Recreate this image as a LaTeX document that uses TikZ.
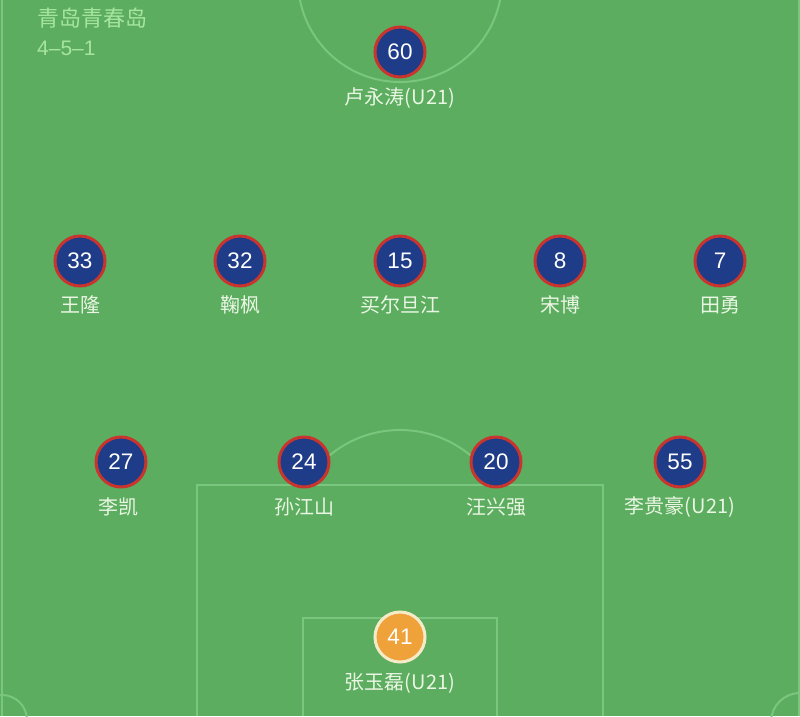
\documentclass[tikz,border=0pt]{standalone}
\usepackage{fontspec}
\setmainfont{Noto Sans CJK SC}
\newfontfamily\numfont{Liberation Sans}
\begin{document}
\begin{tikzpicture}[x=1pt,y=-1pt,
  pitchline/.style={draw=lineg,line width=2pt},
  player/.style={circle,fill=navy,draw=redb,line width=3pt,minimum size=50pt,inner sep=0pt,text=white,font=\numfont\fontsize{22.5}{23}\selectfont},
  keeper/.style={player,fill=orangek,draw=creamk},
  pname/.style={text=namec,font=\fontsize{20}{20}\selectfont,inner sep=0pt},
  title/.style={text=titlec,font=\fontsize{22}{22}\selectfont,inner sep=0pt,anchor=west}]
\definecolor{grass}{HTML}{5CAD5F}
\definecolor{lineg}{HTML}{7BC67E}
\definecolor{navy}{HTML}{1F3C88}
\definecolor{redb}{HTML}{C9352E}
\definecolor{orangek}{HTML}{EFA13A}
\definecolor{creamk}{HTML}{F6EBC8}
\definecolor{namec}{HTML}{EAF6E4}
\definecolor{titlec}{HTML}{A6E5A0}
\useasboundingbox (0,0) rectangle (800,716);
\fill[grass] (0,0) rectangle (800,716);
% pitch lines
\draw[pitchline] (1.5,0) -- (1.5,716);
\draw[pitchline] (798.5,0) -- (798.5,716);
\begin{scope}
\clip (0,0) rectangle (800,716);
\draw[pitchline] (400,-20) circle[radius=102];
\draw[pitchline] (2,720) circle[radius=25];
\draw[pitchline] (800,722) circle[radius=29];
\end{scope}
\draw[pitchline] (197,716) -- (197,485) -- (603,485) -- (603,716);
\draw[pitchline] (303,716) -- (303,618) -- (497,618) -- (497,716);
\begin{scope}
\clip (0,0) rectangle (800,485);
\draw[pitchline] (400,540.5) circle[radius=110.5];
\end{scope}
% title
\node[title] (team) at (37,18) {青岛青春岛};
\node[title,font=\numfont\fontsize{21}{22}\selectfont] (form) at (37,48) {4–5–1};
% players
\node[player] (p60) at (400,52) {60};
\node[pname] at (400,98) {卢永涛(U21)};
\node[player] (p33) at (80,261) {33};
\node[pname] at (80,305) {王隆};
\node[player] (p32) at (240,261) {32};
\node[pname] at (240,305) {鞠枫};
\node[player] (p15) at (400,261) {15};
\node[pname] at (400,305) {买尔旦江};
\node[player] (p8) at (560,261) {8};
\node[pname] at (560,305) {宋博};
\node[player] (p7) at (720,261) {7};
\node[pname] at (720,305) {田勇};
\node[player] (p27) at (121,462) {27};
\node[pname] at (118,507) {李凯};
\node[player] (p24) at (304,462) {24};
\node[pname] at (304,507) {孙江山};
\node[player] (p20) at (496,462) {20};
\node[pname] at (496,507) {汪兴强};
\node[player] (p55) at (680,462) {55};
\node[pname] at (680,507) {李贵豪(U21)};
\node[keeper] (p41) at (400,637) {41};
\node[pname] at (400,683) {张玉磊(U21)};
\end{tikzpicture}
\end{document}
